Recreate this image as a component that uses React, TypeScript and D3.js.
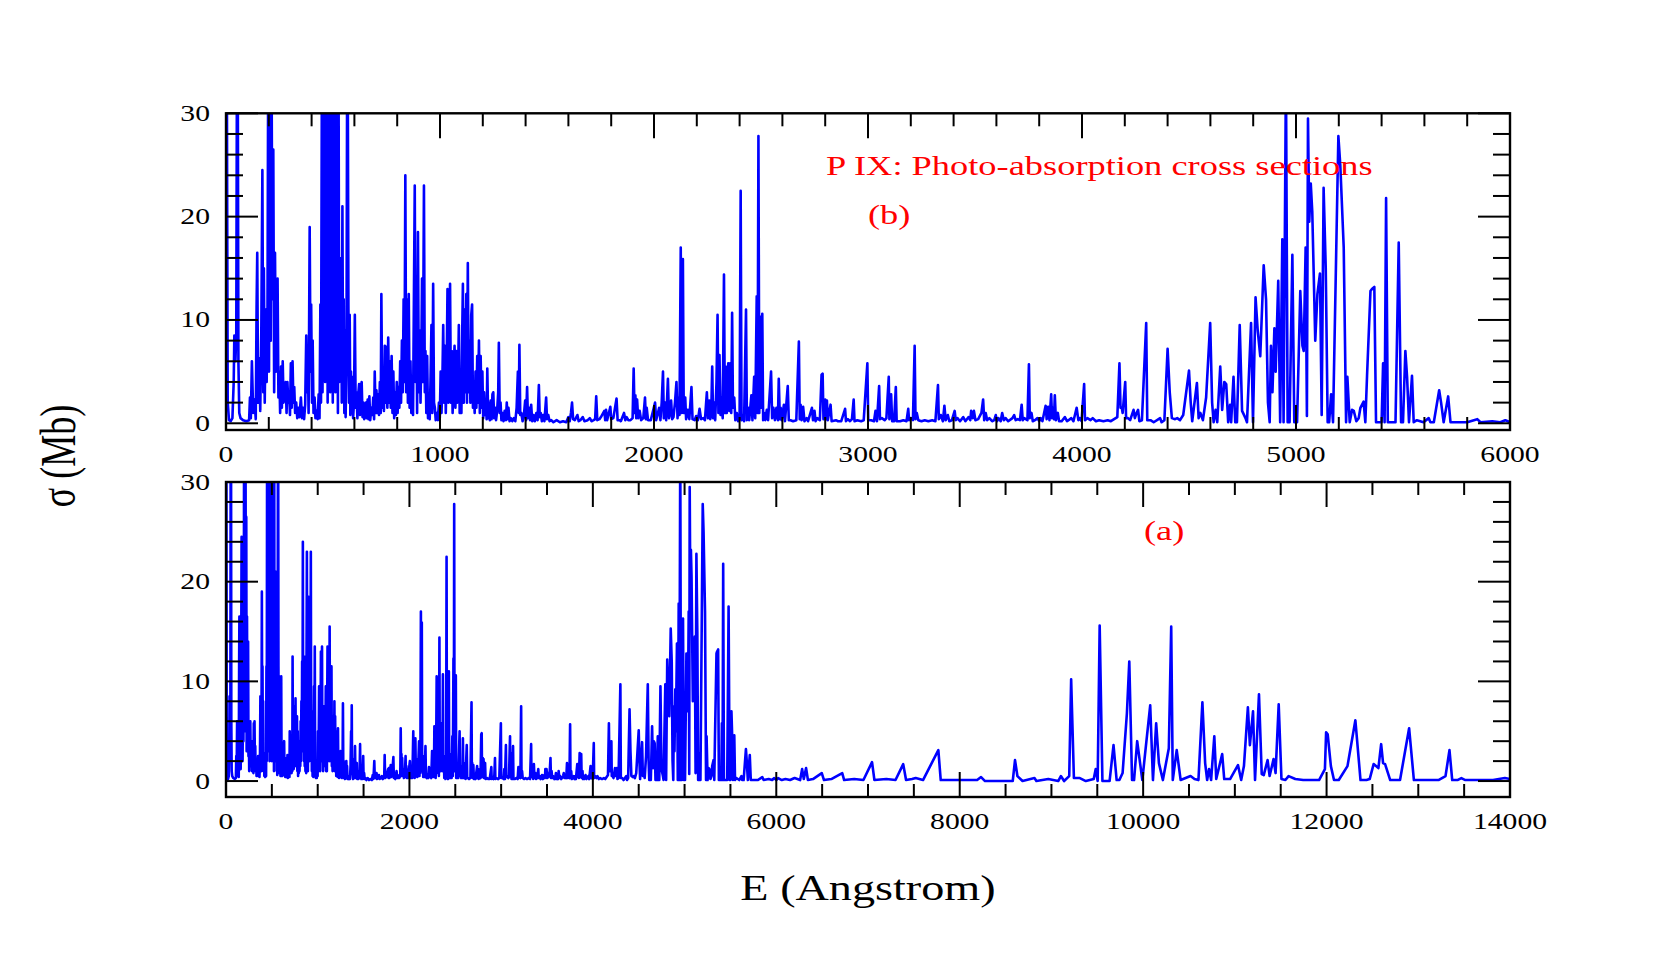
import React from 'react'
import * as d3 from 'd3'

// photo-absorption cross sections of P IX: [E (Angstrom), sigma (Mb)]
const band0to600: [number, number][] = [
  [0, 34], [4, 34], [8, 2], [14, 0.3], [22, 0.2], [30, 0.5], [36, 4], [39, 8.5], [44, 6], [48, 8.6],
  [51, 34], [55, 34], [58, 6], [62, 1], [68, 0.5], [80, 0.3], [95, 0.2], [108, 0.3], [112, 2.5], [116, 0.5],
  [121, 6], [127, 1], [133, 2.3], [139, 0.4], [143, 11.5], [146, 16.5], [150, 2], [155, 6.3], [160, 1.2], [165, 9],
  [170, 24.5], [174, 3], [177, 15], [181, 2], [186, 11], [190, 4], [194, 11.3], [197, 34], [201, 5], [205, 34],
  [209, 8], [213, 34], [217, 12], [221, 26.5], [225, 3], [229, 16.5], [233, 5], [237, 9], [241, 14], [245, 2.5],
  [249, 5], [253, 1], [257, 5.5], [261, 1.5], [265, 6], [269, 2], [274, 3], [279, 4], [283, 1], [287, 4],
  [291, 2], [295, 3], [299, 0.8], [303, 5.8], [307, 1.5], [311, 6], [315, 2], [319, 3.5], [323, 1], [328, 2],
  [333, 0.5], [338, 1.5], [343, 0.6], [350, 2.5], [355, 0.5], [360, 1.5], [365, 0.4], [370, 1.8], [375, 8.5], [379, 3],
  [382, 7], [386, 1], [391, 19], [395, 5], [398, 11.5], [402, 2], [405, 8], [409, 1], [414, 2.5], [418, 0.5],
  [423, 1.2], [428, 0.4], [433, 2.8], [437, 0.5], [441, 11.5], [444, 2], [448, 34], [451, 3], [454, 34], [457, 8],
  [460, 29], [463, 4], [466, 34], [469, 10], [472, 28.5], [475, 2], [478, 34], [481, 6], [484, 25], [487, 3],
  [490, 34], [493, 12], [496, 30.5], [499, 2], [502, 34], [505, 15], [508, 27], [511, 3], [514, 34], [517, 9],
  [520, 21], [523, 1], [526, 34], [529, 4], [532, 15], [535, 6], [538, 16], [541, 2], [544, 21], [547, 4],
  [550, 12], [553, 1], [556, 9], [559, 0.6], [563, 6], [566, 34], [569, 34], [572, 11.5], [575, 2], [578, 10.5],
  [581, 0.8], [584, 5], [587, 1], [590, 4.5], [594, 0.5], [598, 2]
]

const band600to1520: [number, number][] = [
  [602, 10.5], [606, 1.5], [610, 3], [614, 0.5], [618, 2.8], [622, 3.8], [626, 0.8], [630, 3.5], [634, 4], [638, 0.6],
  [642, 2], [646, 0.4], [650, 1.3], [654, 2], [658, 0.5], [662, 2.3], [666, 0.4], [670, 2.6], [674, 0.3], [679, 1.5],
  [684, 0.8], [688, 2.5], [692, 0.4], [695, 5], [699, 1], [703, 3.2], [707, 1], [711, 2.8], [715, 0.8], [719, 4],
  [723, 1], [726, 12.5], [730, 1.5], [734, 3.5], [738, 1.2], [742, 7.5], [746, 2], [750, 7.4], [754, 1.5], [758, 8.3],
  [762, 2], [766, 6], [770, 1.5], [774, 6.5], [778, 1], [782, 5], [786, 0.5], [790, 3], [794, 0.8], [798, 4],
  [802, 1], [806, 3.5], [810, 1.5], [814, 6], [818, 2], [822, 8], [826, 3], [830, 12], [834, 4], [838, 24],
  [842, 3], [846, 12], [850, 2], [854, 12.5], [858, 1.5], [862, 6], [866, 1], [870, 3], [874, 0.8], [878, 12],
  [882, 23], [886, 4], [890, 12], [893, 1], [897, 18.5], [901, 3], [905, 9], [909, 2], [913, 7], [916, 14],
  [920, 4], [925, 23], [929, 3], [932, 7], [936, 1], [940, 6.5], [944, 0.5], [948, 2], [952, 0.4], [956, 4.5],
  [960, 9.5], [964, 1], [968, 13.5], [972, 2], [976, 1.5], [980, 0.3], [985, 1], [990, 0.3], [995, 2], [999, 0.5],
  [1003, 5], [1007, 1], [1011, 4], [1015, 9.5], [1019, 2], [1023, 7.5], [1027, 1], [1031, 5], [1035, 13], [1039, 2],
  [1043, 8], [1047, 13.5], [1051, 2], [1055, 7], [1059, 1], [1063, 5], [1068, 7.5], [1072, 1.5], [1076, 7], [1080, 2],
  [1084, 4], [1088, 9.5], [1092, 1], [1096, 3], [1100, 1], [1104, 9], [1107, 13.5], [1111, 2], [1115, 11], [1119, 3],
  [1123, 12.5], [1126, 2], [1130, 15.5], [1134, 3], [1138, 8], [1142, 2], [1146, 10.5], [1150, 11.5], [1154, 1.5], [1158, 4],
  [1162, 1], [1166, 5], [1170, 1.5], [1174, 6.5], [1178, 2], [1182, 8], [1186, 1], [1190, 6.5], [1194, 1.5], [1198, 5],
  [1202, 0.5], [1206, 3], [1210, 0.8], [1214, 2], [1218, 0.4], [1221, 5.3], [1225, 0.5], [1229, 2], [1233, 0.3], [1237, 2.2],
  [1241, 0.4], [1245, 2.8], [1249, 3], [1253, 0.5], [1258, 1.5], [1262, 0.3], [1267, 1.2], [1272, 3], [1275, 7.8], [1279, 1],
  [1283, 2], [1287, 0.3], [1292, 1], [1297, 0.2], [1302, 1.2], [1308, 0.3], [1312, 2], [1316, 0.4], [1320, 1.5], [1325, 0.2],
  [1331, 0.5], [1338, 0.2], [1345, 0.5], [1352, 0.2], [1358, 1.5], [1364, 5], [1368, 1], [1371, 7.6], [1375, 0.8], [1380, 1],
  [1386, 0.2], [1392, 0.8], [1398, 2.2], [1402, 0.3], [1407, 3.5], [1411, 0.5], [1416, 1.5], [1421, 0.3], [1426, 1.8], [1431, 0.2],
  [1437, 0.8], [1443, 0.2], [1450, 1], [1456, 0.3], [1462, 3.7], [1466, 0.6], [1471, 1], [1476, 0.2], [1482, 0.8], [1488, 0.2],
  [1496, 2.5], [1500, 0.4], [1506, 0.8], [1512, 0.2], [1520, 0.3]
]

const band1520to4110: [number, number][] = [
  [1530, 0.1], [1545, 0.3], [1560, 0.1], [1575, 0.2], [1590, 0.1], [1600, 0.6], [1606, 0.2], [1612, 1], [1617, 2], [1622, 0.4],
  [1630, 0.3], [1642, 0.8], [1648, 0.2], [1656, 0.3], [1667, 0.6], [1675, 0.2], [1690, 0.3], [1700, 0.5], [1708, 0.2], [1718, 0.3],
  [1725, 0.4], [1730, 2.6], [1735, 0.3], [1745, 0.4], [1752, 0.6], [1768, 1.2], [1772, 0.3], [1776, 1.3], [1781, 0.3], [1796, 1.6],
  [1800, 0.4], [1810, 0.5], [1825, 2.4], [1830, 0.3], [1840, 0.3], [1845, 0.2], [1860, 1], [1866, 0.3], [1872, 0.6], [1880, 0.3],
  [1890, 0.3], [1900, 0.5], [1905, 5.3], [1909, 1], [1913, 2.7], [1917, 0.5], [1921, 2.3], [1926, 0.5], [1933, 1.2], [1940, 0.3],
  [1950, 0.5], [1958, 2.5], [1962, 0.4], [1966, 1.5], [1972, 0.3], [1985, 0.3], [1998, 1.4], [2005, 2], [2010, 0.3], [2016, 0.8],
  [2024, 1.5], [2030, 0.3], [2036, 2], [2042, 5], [2046, 0.5], [2052, 2], [2057, 0.3], [2065, 4.3], [2070, 0.5], [2075, 1],
  [2080, 2.2], [2085, 0.4], [2091, 0.6], [2098, 2], [2105, 4], [2110, 0.5], [2114, 2.5], [2119, 0.8], [2125, 17], [2129, 1],
  [2135, 15.9], [2139, 1], [2146, 2.5], [2150, 0.4], [2158, 1.3], [2165, 0.4], [2175, 3.5], [2180, 0.4], [2190, 0.3], [2197, 0.7],
  [2205, 0.3], [2213, 1.4], [2220, 0.4], [2230, 0.5], [2238, 0.3], [2247, 3], [2252, 0.5], [2258, 2.2], [2263, 0.4], [2268, 1.5],
  [2272, 5.5], [2276, 0.5], [2281, 2], [2286, 0.3], [2292, 4], [2297, 10.5], [2301, 1], [2306, 6.6], [2311, 0.8], [2316, 2.5],
  [2321, 0.5], [2327, 14.4], [2331, 1], [2335, 5.5], [2340, 1], [2347, 5.8], [2352, 1.2], [2357, 5.8], [2361, 1], [2365, 10.7],
  [2369, 1.5], [2375, 2.5], [2380, 0.3], [2387, 1], [2393, 0.2], [2400, 0.5], [2405, 22.5], [2409, 0.3], [2415, 0.8], [2421, 0.2],
  [2430, 11], [2434, 0.3], [2440, 1.5], [2445, 0.3], [2455, 2.7], [2460, 0.3], [2468, 4.5], [2473, 0.5], [2480, 12.3], [2484, 1],
  [2488, 27.8], [2492, 1], [2497, 10.3], [2501, 1.5], [2506, 10.6], [2510, 0.3], [2515, 1], [2520, 0.3], [2527, 1.3], [2533, 0.3],
  [2547, 5], [2552, 0.5], [2558, 1.5], [2565, 0.3], [2572, 1.5], [2579, 0.3], [2583, 4.3], [2588, 0.4], [2592, 1.5], [2597, 0.3],
  [2607, 1.8], [2612, 0.2], [2625, 3.6], [2630, 0.3], [2638, 0.3], [2650, 0.2], [2665, 0.3], [2677, 7.9], [2681, 0.4], [2685, 1.8],
  [2690, 0.3], [2697, 1.6], [2703, 0.2], [2713, 0.5], [2720, 0.2], [2738, 1.5], [2743, 0.3], [2750, 1.2], [2755, 0.2], [2763, 0.5],
  [2775, 0.3], [2783, 4.7], [2788, 4.8], [2792, 0.4], [2800, 2.3], [2804, 0.4], [2808, 2.2], [2812, 0.3], [2825, 1.8], [2830, 0.2],
  [2850, 0.3], [2860, 0.2], [2875, 0.2], [2893, 1.4], [2897, 0.2], [2906, 0.4], [2916, 0.2], [2925, 0.4], [2933, 2.3], [2937, 0.2],
  [2950, 0.3], [2968, 0.2], [2980, 0.3], [2997, 5.8], [3001, 0.3], [3015, 0.3], [3028, 0.2], [3035, 1.2], [3042, 0.2], [3052, 3.6],
  [3056, 0.4], [3065, 0.5], [3078, 0.3], [3086, 0.5], [3097, 4.5], [3100, 0.4], [3108, 2.8], [3113, 0.2], [3122, 0.2], [3130, 3.5],
  [3134, 0.2], [3150, 0.2], [3165, 0.3], [3180, 0.2], [3188, 1.4], [3192, 0.3], [3200, 0.5], [3210, 0.3], [3218, 7.5], [3222, 0.4],
  [3228, 1], [3235, 0.3], [3250, 0.2], [3265, 0.3], [3282, 0.2], [3300, 0.3], [3315, 0.2], [3327, 3.7], [3331, 0.4], [3340, 0.8],
  [3350, 0.2], [3357, 1.7], [3363, 0.3], [3373, 0.8], [3380, 0.2], [3392, 0.3], [3405, 1.2], [3410, 0.3], [3418, 0.5], [3430, 0.2],
  [3445, 0.6], [3455, 0.2], [3470, 0.6], [3478, 0.3], [3482, 1.2], [3490, 0.5], [3495, 1.2], [3502, 0.3], [3515, 0.4], [3530, 1],
  [3538, 2.3], [3543, 0.3], [3550, 1], [3557, 0.3], [3567, 0.5], [3580, 0.2], [3590, 0.3], [3597, 0.8], [3603, 0.2], [3610, 0.5],
  [3620, 0.2], [3627, 1], [3635, 0.3], [3643, 0.5], [3655, 0.2], [3675, 0.5], [3683, 0.8], [3690, 0.3], [3700, 0.4], [3710, 0.3],
  [3718, 1.8], [3723, 0.3], [3730, 0.5], [3745, 0.3], [3752, 5.7], [3756, 0.5], [3764, 1], [3770, 0.2], [3780, 0.3], [3792, 0.5],
  [3800, 0.2], [3807, 0.5], [3815, 0.2], [3830, 1.7], [3835, 0.4], [3842, 1.6], [3848, 0.3], [3856, 2.8], [3860, 0.5], [3865, 1.5],
  [3869, 0.4], [3873, 2.7], [3878, 0.3], [3887, 1], [3893, 0.2], [3905, 0.2], [3920, 0.6], [3930, 0.2], [3937, 0.3], [3950, 0.5],
  [3960, 0.2], [3975, 1.5], [3983, 0.3], [3990, 0.5], [3998, 0.2], [4010, 3.8], [4014, 0.3], [4025, 0.5], [4040, 0.3], [4050, 0.5],
  [4065, 0.2], [4080, 0.3], [4100, 0.2]
]

const band4110to6000: [number, number][] = [
  [4120, 0.3], [4135, 0.2], [4150, 0.4], [4165, 0.6], [4175, 5.8], [4180, 1.5], [4186, 1.5], [4190, 1], [4202, 4], [4206, 0.5],
  [4215, 0.5], [4225, 0.3], [4241, 1.3], [4247, 0.5], [4255, 1], [4262, 1.3], [4268, 0.2], [4280, 0.3], [4300, 9.7], [4305, 0.3],
  [4320, 0.3], [4335, 0.1], [4365, 0.5], [4372, 0.1], [4385, 0.3], [4400, 7.2], [4410, 3], [4420, 0.5], [4435, 0.4], [4445, 0.5],
  [4458, 0.3], [4473, 0.8], [4500, 5.1], [4508, 2], [4515, 0.2], [4537, 3.9], [4545, 0.5], [4553, 1], [4565, 0.3], [4580, 2.5],
  [4599, 9.7], [4608, 2], [4615, 0.1], [4624, 1.3], [4632, 0.1], [4646, 5.5], [4655, 1.3], [4665, 4], [4674, 3.8], [4683, 0.1],
  [4692, 1.8], [4697, 0.1], [4708, 4.5], [4716, 0.1], [4724, 0.1], [4737, 9.5], [4748, 1.2], [4764, 0.5], [4771, 0.1], [4790, 9.7],
  [4799, 0.1], [4811, 12.2], [4821, 9], [4833, 6.5], [4849, 15.3], [4860, 12], [4869, 2], [4877, 0.1], [4883, 7.5], [4890, 3],
  [4899, 9.2], [4905, 5], [4917, 13.8], [4926, 0.1], [4936, 17.8], [4942, 0.1], [4953, 34], [4961, 0.1], [4970, 0.1], [4983, 16.3],
  [4992, 0.1], [5005, 0.1], [5020, 12.8], [5030, 7.5], [5036, 7], [5045, 17], [5051, 0.7], [5056, 29.5], [5062, 19.5], [5069, 23.2],
  [5076, 20.5], [5090, 8], [5100, 12.5], [5112, 14.5], [5120, 0.8], [5129, 22.8], [5139, 15], [5148, 0.1], [5155, 0.1], [5164, 2.8],
  [5173, 0.1], [5198, 27.8], [5207, 25], [5223, 17], [5234, 0.1], [5240, 4.5], [5251, 0.1], [5262, 1.3], [5270, 1.2], [5282, 0.2],
  [5293, 0.5], [5301, 1.5], [5316, 2.1], [5324, 0.1], [5332, 4.6], [5348, 12.8], [5355, 13], [5366, 13.2], [5374, 0.1], [5400, 0.1],
  [5407, 5.8], [5414, 0.1], [5421, 21.8], [5429, 0.1], [5465, 0.1], [5480, 17.5], [5491, 0.1], [5500, 0.1], [5511, 7], [5519, 4.5],
  [5528, 0.1], [5542, 4.6], [5550, 0.1], [5565, 0.3], [5596, 0.1], [5620, 0.5], [5628, 0.1], [5644, 0.1], [5669, 3.2], [5678, 2],
  [5690, 0.1], [5711, 2.6], [5722, 0.1], [5800, 0.1], [5847, 0.4], [5862, 0.1], [5917, 0.2], [5955, 0.1], [5978, 0.3], [6000, 0.1]
]

const band6000to14000: [number, number][] = [
  [6020, 0.3], [6060, 0.1], [6100, 0.2], [6150, 0.1], [6200, 0.3], [6260, 0.1], [6282, 1.2], [6300, 0.2], [6325, 1.3], [6345, 0.1],
  [6400, 0.2], [6496, 0.8], [6520, 0.1], [6600, 0.2], [6719, 0.8], [6740, 0.1], [6850, 0.2], [6950, 0.1], [7044, 1.9], [7070, 0.1],
  [7200, 0.2], [7300, 0.1], [7384, 1.7], [7415, 0.1], [7480, 0.2], [7520, 0.3], [7600, 0.1], [7767, 3.1], [7793, 0.1], [8100, 0.1],
  [8190, 0.1], [8233, 0.4], [8276, 0], [8578, 0], [8603, 2.1], [8629, 0.5], [8685, 0], [8815, 0.3], [8836, 0], [8966, 0.2],
  [9074, 0], [9103, 0.5], [9138, 0], [9194, 0.5], [9215, 10.2], [9245, 0.3], [9310, 0.3], [9375, 0], [9461, 0.2], [9483, 1.2],
  [9504, 0], [9526, 15.6], [9556, 0], [9634, 0], [9677, 3.6], [9711, 0.1], [9741, 0.1], [9776, 0.8], [9823, 6.8], [9849, 12],
  [9879, 0.1], [9901, 0.1], [9935, 4], [9991, 0.1], [10077, 7.6], [10107, 0.1], [10142, 5.8], [10172, 1.8], [10215, 0.1], [10280, 3.3],
  [10306, 15.5], [10323, 0.1], [10366, 3.1], [10409, 0.1], [10517, 0.5], [10560, 0.2], [10603, 0.1], [10646, 7.9], [10676, 1.8], [10698, 0.1],
  [10719, 1.2], [10741, 0.1], [10776, 4.5], [10797, 0.2], [10862, 2.7], [10884, 0.2], [10948, 0.2], [11034, 1.6], [11069, 0.1], [11099, 1.5],
  [11142, 7.4], [11164, 3.6], [11198, 7], [11220, 0.1], [11263, 8.7], [11293, 0.7], [11315, 0.6], [11357, 2.1], [11379, 0.5], [11422, 2.2],
  [11444, 0.8], [11478, 7.7], [11508, 0.2], [11551, 0.1], [11586, 0.5], [11659, 0.2], [11745, 0.1], [11832, 0.1], [11918, 0.1], [11982, 1.2],
  [11995, 4.9], [12012, 4.7], [12047, 1.5], [12081, 0.1], [12133, 0.1], [12228, 1.5], [12314, 6.1], [12370, 0.1], [12435, 0.1], [12470, 0.2],
  [12513, 1.7], [12565, 1.3], [12595, 3.7], [12616, 1.8], [12638, 1.7], [12694, 0.1], [12801, 0.1], [12900, 5.3], [12952, 0.1], [13168, 0.1],
  [13220, 0.1], [13297, 0.5], [13340, 3.1], [13370, 0.1], [13427, 0.1], [13470, 0.3], [13513, 0.1], [13815, 0.1], [13944, 0.3], [14000, 0.2]
]

const spectrum = [...band0to600, ...band600to1520, ...band1520to4110, ...band4110to6000, ...band6000to14000]

const topXTicks = [0, 1000, 2000, 3000, 4000, 5000, 6000]
const bottomXTicks = [0, 2000, 4000, 6000, 8000, 10000, 12000, 14000]
const yTicks = [0, 10, 20, 30]

const FONT = '"Liberation Serif", "Times New Roman", Times, serif'
const STRETCH = 1.32

type PanelProps = {
  id: string
  top: number
  bottom: number
  xMax: number
  yMin: number
  majorX: number[]
  minorStep: number
  label: string
  labelX: number
  labelY: number
}

const LEFT = 226
const RIGHT = 1510

const Panel = (p: PanelProps) => {
  const x = d3.scaleLinear().domain([0, p.xMax]).range([LEFT, RIGHT])
  const y = d3.scaleLinear().domain([p.yMin, 30]).range([p.bottom, p.top])
  const pts = spectrum.filter(d => d[0] <= p.xMax)
  const line = d3.line<[number, number]>()
    .x(d => x(d[0]))
    .y(d => y(d[1]))

  const minorX = d3.range(0, p.xMax + 1, p.minorStep).filter(v => !p.majorX.includes(v))
  const minorY = d3.range(0, 31, 2).filter(v => !yTicks.includes(v))

  return (
    <g>
      <clipPath id={p.id}>
        <rect x={LEFT} y={p.top} width={RIGHT - LEFT} height={p.bottom - p.top} />
      </clipPath>
      <path d={line(pts) || ''} fill="none" stroke="#0000ff" strokeWidth={2.6}
        strokeLinejoin="round" clipPath={`url(#${p.id})`} />

      <g stroke="#000" strokeWidth={2}>
        {p.majorX.map(v => (
          <g key={'M' + v}>
            <line x1={x(v)} x2={x(v)} y1={p.top} y2={p.top + 25} />
            <line x1={x(v)} x2={x(v)} y1={p.bottom} y2={p.bottom - 25} />
          </g>
        ))}
        {minorX.map(v => (
          <g key={'m' + v}>
            <line x1={x(v)} x2={x(v)} y1={p.top} y2={p.top + 13} />
            <line x1={x(v)} x2={x(v)} y1={p.bottom} y2={p.bottom - 13} />
          </g>
        ))}
        {yTicks.map(v => (
          <g key={'Y' + v}>
            <line x1={LEFT} x2={LEFT + 32} y1={y(v)} y2={y(v)} />
            <line x1={RIGHT} x2={RIGHT - 32} y1={y(v)} y2={y(v)} />
          </g>
        ))}
        {minorY.map(v => (
          <g key={'y' + v}>
            <line x1={LEFT} x2={LEFT + 17} y1={y(v)} y2={y(v)} />
            <line x1={RIGHT} x2={RIGHT - 17} y1={y(v)} y2={y(v)} />
          </g>
        ))}
      </g>
      <rect x={LEFT} y={p.top} width={RIGHT - LEFT} height={p.bottom - p.top}
        fill="none" stroke="#000" strokeWidth={2.4} />

      <g fontFamily={FONT} fontSize={22.5} fill="#000">
        {p.majorX.map(v => (
          <text key={'tx' + v} textAnchor="middle"
            transform={`translate(${x(v)},${p.bottom + 32}) scale(${STRETCH},1)`}>{v}</text>
        ))}
        {yTicks.map(v => (
          <text key={'ty' + v} textAnchor="end"
            transform={`translate(${LEFT - 16},${y(v) + 7.5}) scale(${STRETCH},1)`}>{v}</text>
        ))}
      </g>
      <text fontFamily={FONT} fontSize={28} fill="#ff0000"
        transform={`translate(${p.labelX},${p.labelY}) scale(1.3,1)`}>{p.label}</text>
    </g>
  )
}

const App = () => {
  return (
    <svg width={1661} height={969} style={{ position: 'absolute', left: 0, top: 0, background: '#fff' }}>
      <Panel id="clipB" top={113.3} bottom={430} xMax={6000} yMin={-0.65}
        majorX={topXTicks} minorStep={200} label="(b)" labelX={868} labelY={224} />
      <text fontFamily={FONT} fontSize={28} fill="#ff0000"
        transform="translate(826,175) scale(1.3,1)">P IX: Photo-absorption cross sections</text>
      <Panel id="clipA" top={482} bottom={797} xMax={14000} yMin={-1.6}
        majorX={bottomXTicks} minorStep={500} label="(a)" labelX={1144} labelY={540} />
      <text fontFamily={FONT} fontSize={35} fill="#000" textAnchor="middle"
        transform={`translate(868,900) scale(${STRETCH},1)`}>E (Angstrom)</text>
      <text fontFamily={FONT} fontSize={36} fill="#000" textAnchor="middle"
        transform="translate(75,456) scale(1.38,1) rotate(-90)">σ (Mb)</text>
    </svg>
  )
}

export default App
